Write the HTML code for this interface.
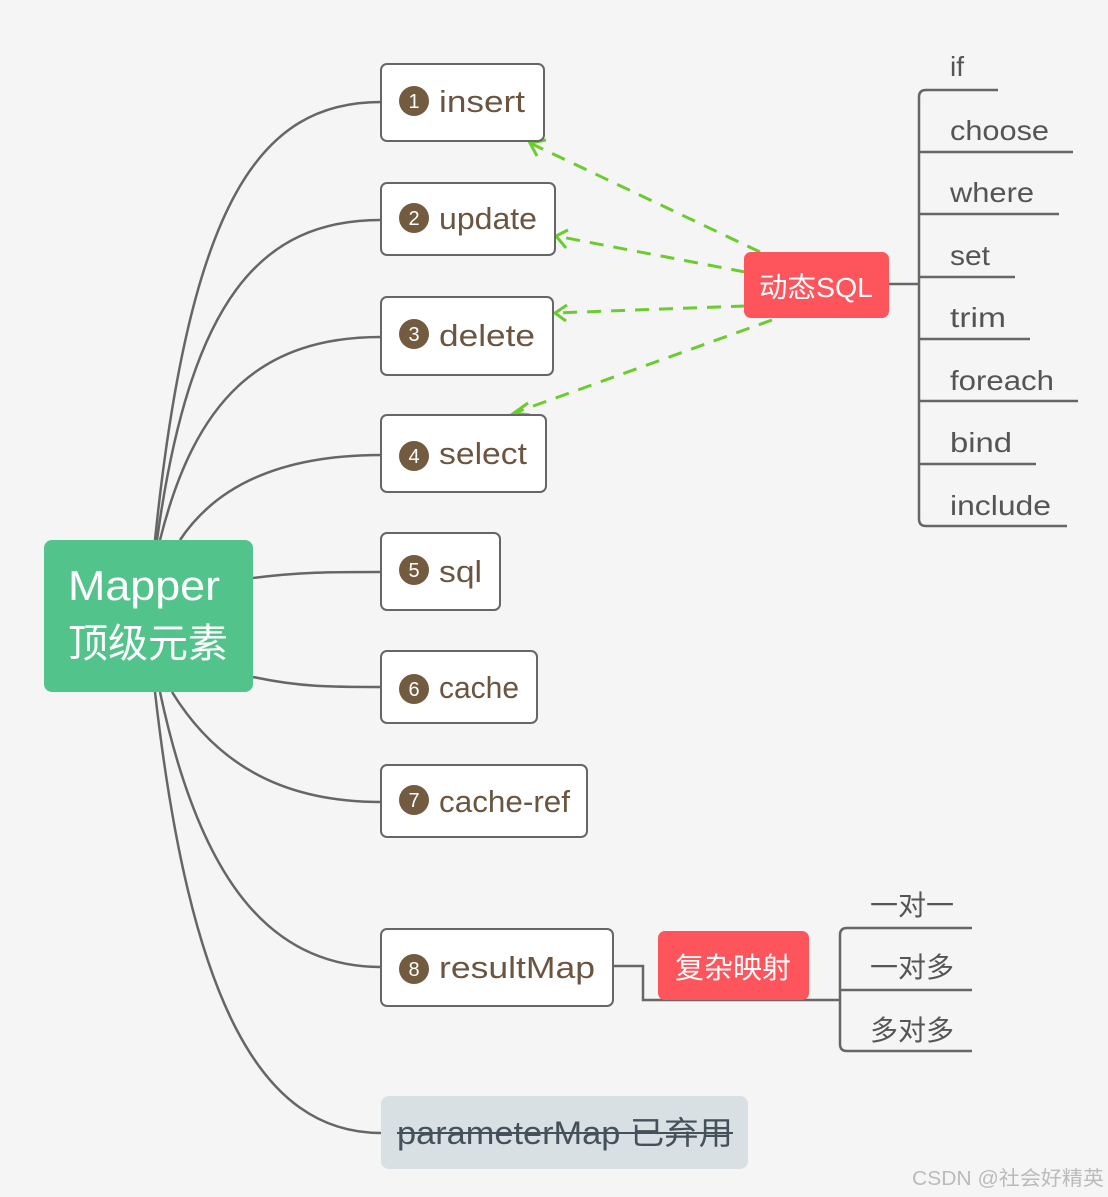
<!DOCTYPE html>
<html><head><meta charset="utf-8"><style>
html,body{margin:0;padding:0;background:#f5f5f5;}
svg{display:block;font-family:"Liberation Sans","Noto Sans CJK SC",sans-serif;}
.t{font-size:31px;fill:#6b5540;}
.r{font-size:28px;fill:#555;}
</style></head><body>
<svg width="1108" height="1197" viewBox="0 0 1108 1197">
<rect width="1108" height="1197" fill="#f5f5f5"/>
<g fill="none" stroke="#666" stroke-width="2.5">
<path d="M155 540 C190 200 260 102 381 102"/>
<path d="M157 540 C190 300 260 220 381 220"/>
<path d="M160 540 C195 400 260 337 381 337"/>
<path d="M180 540 C220 480 290 455 381 455"/>
<path d="M253 578 C300 572 330 572 381 572"/>
<path d="M253 677 C300 687 330 687 381 687"/>
<path d="M172 692 C220 770 290 802 381 802"/>
<path d="M160 692 C200 880 270 967 381 967"/>
<path d="M155 692 C190 1000 260 1133 381 1133"/>
<path d="M613 966 H643 V1000 H840"/>
<path d="M889 284 H919"/>
<path d="M998 90 H926 Q919 90 919 97 V519 Q919 526 926 526 H1067"/>
<path d="M919 152 H1073 M919 214 H1059 M919 277 H1015 M919 339 H1030 M919 401 H1078 M919 464 H1036"/>
<path d="M972 928 H847 Q840 928 840 935 V1044 Q840 1051 847 1051 H972 M840 990 H972"/>
</g>
<g fill="none" stroke="#6ccb2f" stroke-width="3" stroke-dasharray="14,10">
<path d="M760 252 L530 143"/>
<path d="M745 272 L556 236"/>
<path d="M745 306 L555 313"/>
<path d="M772 320 L514 413"/>
</g>
<g fill="none" stroke="#6ccb2f" stroke-width="3">
<path d="M546 140 L530 143 L537 156"/>
<path d="M568 230 L556 236 L566 248"/>
<path d="M567 305 L555 313 L566 321"/>
<path d="M528 403 L514 413 L530 415"/>
</g>
<rect x="44" y="540" width="209" height="152" rx="8" fill="#52c48b"/>
<text x="68" y="600" font-size="42" fill="#fff" textLength="152" lengthAdjust="spacingAndGlyphs">Mapper</text>
<text x="68" y="657" font-size="40" fill="#fff">顶级元素</text>
<g fill="#fff" stroke="#666" stroke-width="2">
<rect x="381" y="64" width="163" height="77" rx="6"/>
<rect x="381" y="183" width="174" height="72" rx="6"/>
<rect x="381" y="297" width="172" height="78" rx="6"/>
<rect x="381" y="415" width="165" height="77" rx="6"/>
<rect x="381" y="533" width="119" height="77" rx="6"/>
<rect x="381" y="651" width="156" height="72" rx="6"/>
<rect x="381" y="765" width="206" height="72" rx="6"/>
<rect x="381" y="929" width="232" height="77" rx="6"/>
</g>
<g fill="#735b40">
<circle cx="414" cy="101" r="15"/><circle cx="414" cy="218" r="15"/><circle cx="414" cy="334" r="15"/><circle cx="414" cy="456" r="15"/>
<circle cx="414" cy="570" r="15"/><circle cx="414" cy="689" r="15"/><circle cx="414" cy="800" r="15"/><circle cx="414" cy="969" r="15"/>
</g>
<g fill="#fff" font-size="20" text-anchor="middle">
<text x="414" y="108">1</text><text x="414" y="225">2</text><text x="414" y="341">3</text><text x="414" y="463">4</text>
<text x="414" y="577">5</text><text x="414" y="696">6</text><text x="414" y="807">7</text><text x="414" y="976">8</text>
</g>
<g lengthAdjust="spacingAndGlyphs">
<text class="t" x="439" y="112" textLength="86" lengthAdjust="spacingAndGlyphs">insert</text>
<text class="t" x="439" y="229" textLength="98" lengthAdjust="spacingAndGlyphs">update</text>
<text class="t" x="439" y="346" textLength="96" lengthAdjust="spacingAndGlyphs">delete</text>
<text class="t" x="439" y="464" textLength="88" lengthAdjust="spacingAndGlyphs">select</text>
<text class="t" x="439" y="582" textLength="43" lengthAdjust="spacingAndGlyphs">sql</text>
<text class="t" x="439" y="698" textLength="80" lengthAdjust="spacingAndGlyphs">cache</text>
<text class="t" x="439" y="812" textLength="131" lengthAdjust="spacingAndGlyphs">cache-ref</text>
<text class="t" x="439" y="978" textLength="156" lengthAdjust="spacingAndGlyphs">resultMap</text>
</g>
<rect x="381" y="1096" width="367" height="73" rx="8" fill="#d9e0e3"/>
<text x="397" y="1144" font-size="32" fill="#44505a" textLength="336" lengthAdjust="spacingAndGlyphs">parameterMap 已弃用</text>
<path d="M397 1133 H733" stroke="#44505a" stroke-width="2"/>
<rect x="744" y="252" width="145" height="66" rx="7" fill="#fe545c"/>
<text x="759" y="297" font-size="28" fill="#fff" textLength="114" lengthAdjust="spacingAndGlyphs">动态SQL</text>
<rect x="658" y="931" width="151" height="69" rx="7" fill="#fe545c"/>
<text x="675" y="978" font-size="29" fill="#fff">复杂映射</text>
<text class="r" x="950" y="76">if</text>
<text class="r" x="950" y="140" textLength="99" lengthAdjust="spacingAndGlyphs">choose</text>
<text class="r" x="950" y="202" textLength="84" lengthAdjust="spacingAndGlyphs">where</text>
<text class="r" x="950" y="265" textLength="40" lengthAdjust="spacingAndGlyphs">set</text>
<text class="r" x="950" y="327" textLength="56" lengthAdjust="spacingAndGlyphs">trim</text>
<text class="r" x="950" y="390" textLength="104" lengthAdjust="spacingAndGlyphs">foreach</text>
<text class="r" x="950" y="452" textLength="62" lengthAdjust="spacingAndGlyphs">bind</text>
<text class="r" x="950" y="515" textLength="101" lengthAdjust="spacingAndGlyphs">include</text>
<text class="r" x="870" y="915">一对一</text>
<text class="r" x="870" y="977">一对多</text>
<text class="r" x="870" y="1040">多对多</text>
<text x="912" y="1185" font-size="20" fill="#bbb" textLength="192" lengthAdjust="spacingAndGlyphs">CSDN @社会好精英</text>
</svg>
</body></html>
